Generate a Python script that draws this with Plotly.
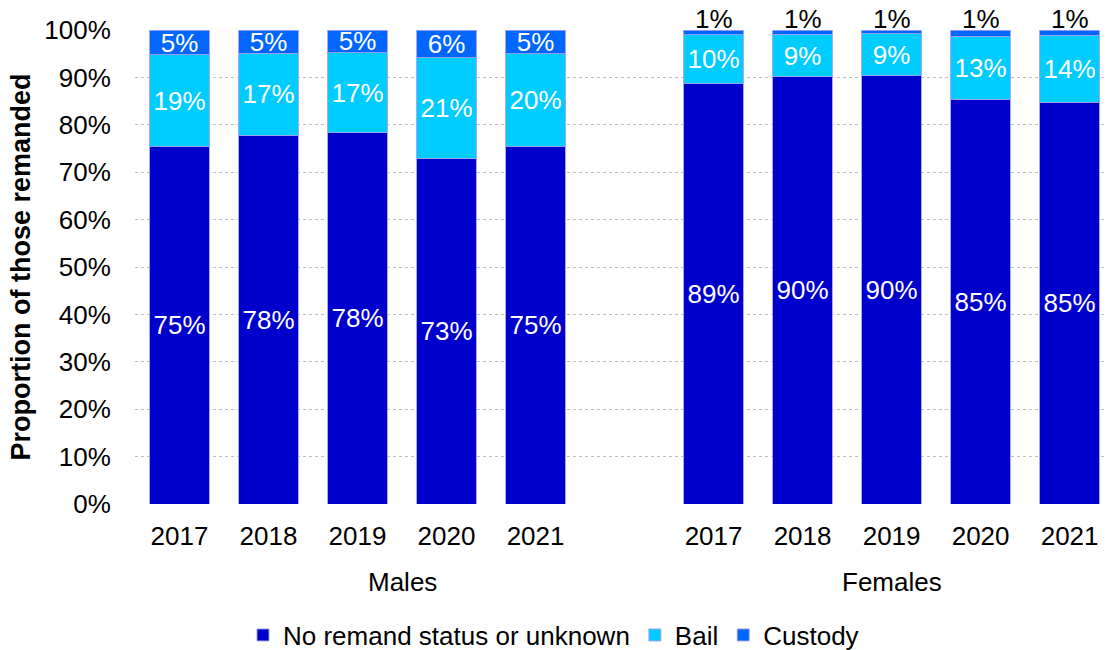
import plotly.graph_objects as go

# Remand status of those remanded, by sex and year (percent of total)
groups = ["Males", "Females"]
years = ["2017", "2018", "2019", "2020", "2021"]

no_remand_males = [75.4, 77.8, 78.3, 72.8, 75.4]
bail_males = [19.4, 17.3, 16.9, 21.3, 19.6]
custody_males = [5.1, 4.9, 4.8, 5.9, 5.0]

no_remand_females = [88.7, 90.1, 90.4, 85.4, 84.8]
bail_females = [10.3, 9.0, 8.8, 13.3, 14.1]
custody_females = [1.0, 0.9, 0.8, 1.3, 1.1]

series_names = ["No remand status or unknown", "Bail", "Custody"]
series_colors = ["#0000CC", "#00CCFF", "#0066FF"]

FONT = "Arial, Liberation Sans, sans-serif"
FS = 26

# x slots: males 0..4, an empty slot, females 6..10
n = len(years)
x_males = list(range(n))
x_females = [n + 1 + i for i in range(n)]
x_all = x_males + x_females
tick_text = years + years

series_values = [
    no_remand_males + no_remand_females,
    bail_males + bail_females,
    custody_males + custody_females,
]

fig = go.Figure()
for name, vals, col in zip(series_names, series_values, series_colors):
    if name == "Custody":
        # female custody shares are too thin for an inside label; they get
        # a label above the stack instead (added below)
        labels = [f"{round(v)}%" for v in custody_males] + [""] * n
    else:
        labels = [f"{round(v)}%" for v in vals]
    fig.add_trace(go.Bar(
        x=x_all,
        y=vals,
        name=name,
        marker=dict(color=col, line=dict(color="rgba(160,160,240,0.9)", width=1)),
        text=labels,
        textposition="inside",
        insidetextanchor="middle",
        insidetextfont=dict(color="white", size=FS, family=FONT),
        cliponaxis=False,
        hoverinfo="skip",
    ))

# labels above the female stacks for the custody share
for xi, nr, b, c in zip(x_females, no_remand_females, bail_females, custody_females):
    fig.add_annotation(
        x=xi, xref="x", y=nr + b + c, yref="y",
        text=f"{round(c)}%", showarrow=False,
        font=dict(size=FS, color="black", family=FONT),
        xanchor="center", yanchor="middle", yshift=11,
    )

# group labels under the year ticks
group_centers = [(x_males[0] + x_males[-1] + 1) / 2, sum(x_females) / n]
for g, cx in zip(groups, group_centers):
    fig.add_annotation(
        x=cx, xref="x", y=-0.165, yref="paper",
        text=g, showarrow=False,
        font=dict(size=FS, color="black", family=FONT),
        xanchor="center", yanchor="middle",
    )

fig.update_layout(
    width=1107, height=650,
    margin=dict(l=135, r=0, t=30, b=146),
    barmode="stack",
    bargap=0.33,
    plot_bgcolor="white",
    paper_bgcolor="white",
    font=dict(family=FONT, size=FS, color="black"),
    uniformtext=dict(minsize=FS, mode="show"),
    showlegend=True,
    legend=dict(
        orientation="h",
        traceorder="normal",
        xref="container", yref="container",
        x=0.5, xanchor="center",
        y=0.023, yanchor="middle",
        font=dict(size=FS, family=FONT),
        itemwidth=30,
    ),
)

fig.update_xaxes(
    range=[-0.5, 10.42],
    tickmode="array",
    tickvals=x_all,
    ticktext=tick_text,
    ticks="outside", ticklen=9, tickcolor="rgba(0,0,0,0)",
    showgrid=False, zeroline=False, showline=False,
    tickfont=dict(size=FS, family=FONT),
)

fig.update_yaxes(
    range=[0, 100],
    dtick=10,
    ticksuffix="%",
    ticks="outside", ticklen=18, tickcolor="rgba(0,0,0,0)",
    showgrid=True, gridcolor="#BFBFBF", griddash="dot", gridwidth=1,
    zeroline=False, showline=False,
    tickfont=dict(size=FS, family=FONT),
    title=dict(
        text="Proportion of those remanded",
        font=dict(size=27, family=FONT, weight="bold"),
        standoff=5,
    ),
)

fig.write_html("out.html")
